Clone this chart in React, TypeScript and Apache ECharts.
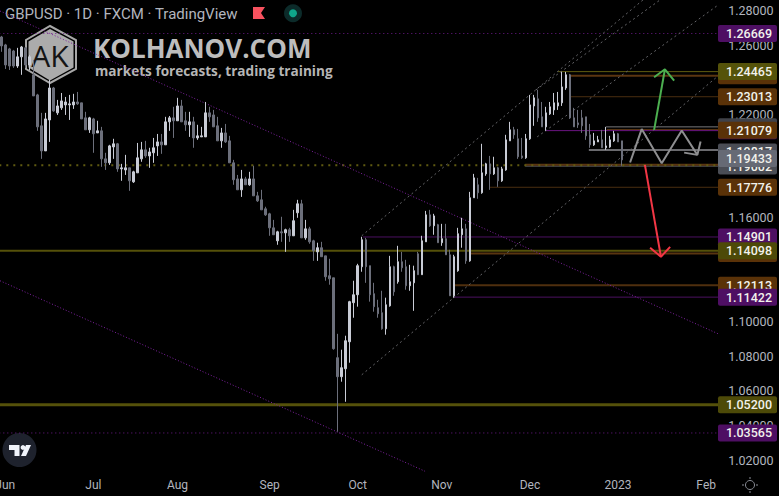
import React, { useEffect, useRef } from "react";
import * as echarts from "echarts";

const titleText = "GBPUSD · 1D · FXCM · TradingView";
const brandName = "KOLHANOV.COM";
const brandTagline = "markets forecasts, trading training";
const logoText = "AK";

const slotCount = 180;
const monthLabels: [number, string][] = [
  [1, "Jun"], [23, "Jul"], [44, "Aug"], [67, "Sep"], [89, "Oct"],
  [110, "Nov"], [132, "Dec"], [154, "2023"], [176, "Feb"],
];

// open, close, low, high
const candles: number[][] = [
  [1.2647,1.2595,1.2561,1.2653],[1.2601,1.2485,1.2462,1.2607],[1.2578,1.2479,1.2456,1.2584],[1.2566,1.2479,1.2468,1.2572],
  [1.2479,1.2532,1.2468,1.2584],[1.2532,1.2589,1.2428,1.2595],[1.2584,1.2485,1.2468,1.2589],[1.2485,1.2532,1.2456,1.2543],
  [1.2428,1.2306,1.2306,1.2514],[1.2312,1.2127,1.2104,1.2318],[1.2133,1.1988,1.1942,1.2208],[1.1988,1.2173,1.1988,1.2208],
  [1.2167,1.2352,1.2040,1.2399],[1.2352,1.2219,1.2214,1.2358],[1.2208,1.2248,1.2196,1.2283],[1.2237,1.2277,1.2225,1.2323],
  [1.2254,1.2271,1.2196,1.2300],[1.2254,1.2260,1.2167,1.2312],[1.2254,1.2271,1.2231,1.2318],[1.2271,1.2260,1.2254,1.2329],
  [1.2266,1.2173,1.2173,1.2266],[1.2179,1.2110,1.2110,1.2214],[1.2110,1.2179,1.2092,1.2185],[1.2173,1.2087,1.1977,1.2179],
  [1.2092,1.2104,1.2092,1.2162],[1.2104,1.1942,1.1896,1.2127],[1.1942,1.1919,1.1878,1.1977],[1.1919,1.2017,1.1907,1.2023],
  [1.2011,1.2029,1.1942,1.2058],[1.2029,1.1884,1.1867,1.2034],[1.1884,1.1890,1.1815,1.1913],[1.1878,1.1890,1.1849,1.1965],
  [1.1890,1.1815,1.1757,1.1890],[1.1809,1.1867,1.1803,1.1873],[1.1861,1.1948,1.1861,1.2034],[1.1942,1.1994,1.1925,1.2040],
  [1.1994,1.1959,1.1948,1.2046],[1.1959,1.1982,1.1890,1.2006],[1.1977,1.2006,1.1919,1.2063],[1.2017,1.2040,1.1959,1.2086],
  [1.2040,1.2023,1.1971,1.2086],[1.2023,1.2156,1.2023,1.2185],[1.2156,1.2179,1.2104,1.2190],[1.2179,1.2162,1.2063,1.2243],
  [1.2162,1.2248,1.2162,1.2295],[1.2248,1.2156,1.2156,1.2283],[1.2162,1.2139,1.2104,1.2214],[1.2139,1.2156,1.2069,1.2214],
  [1.2156,1.2063,1.2006,1.2185],[1.2063,1.2075,1.2052,1.2139],[1.2069,1.2075,1.2069,1.2127],[1.2069,1.2208,1.2069,1.2271],
  [1.2208,1.2185,1.2156,1.2243],[1.2196,1.2127,1.2127,1.2225],[1.2133,1.2046,1.2046,1.2185],[1.2046,1.2092,1.2006,1.2121],
  [1.2092,1.2040,1.2034,1.2144],[1.2046,1.1919,1.1919,1.2075],[1.1919,1.1821,1.1792,1.1936],[1.1826,1.1763,1.1763,1.1849],
  [1.1763,1.1826,1.1722,1.1878],[1.1826,1.1792,1.1792,1.1838],[1.1792,1.1826,1.1786,1.1867],[1.1826,1.1728,1.1728,1.1902],
  [1.1728,1.1699,1.1693,1.1751],[1.1705,1.1647,1.1647,1.1763],[1.1653,1.1618,1.1612,1.1665],[1.1624,1.1543,1.1497,1.1630],
  [1.1543,1.1503,1.1503,1.1589],[1.1468,1.1520,1.1445,1.1526],[1.1520,1.1514,1.1462,1.1607],[1.1514,1.1532,1.1404,1.1538],
  [1.1532,1.1497,1.1462,1.1543],[1.1497,1.1584,1.1497,1.1647],[1.1630,1.1682,1.1601,1.1705],[1.1682,1.1485,1.1485,1.1705],
  [1.1485,1.1537,1.1474,1.1589],[1.1537,1.1462,1.1451,1.1549],[1.1468,1.1410,1.1352,1.1474],[1.1404,1.1428,1.1352,1.1457],
  [1.1428,1.1376,1.1376,1.1462],[1.1381,1.1260,1.1237,1.1381],[1.1266,1.1248,1.1214,1.1364],[1.1254,1.0844,1.0838,1.1254],
  [1.0792,1.0682,1.0364,1.0930],[1.0682,1.0734,1.0653,1.0838],[1.0728,1.0890,1.0537,1.0919],[1.0884,1.1116,1.0763,1.1121],
  [1.1110,1.1156,1.1023,1.1237],[1.1156,1.1324,1.1087,1.1335],[1.1318,1.1474,1.1289,1.1491],[1.1474,1.1318,1.1225,1.1485],
  [1.1324,1.1156,1.1116,1.1324],[1.1162,1.1087,1.1058,1.1225],[1.1081,1.1046,1.1023,1.1127],[1.1052,1.0959,1.0954,1.1179],
  [1.0959,1.1098,1.0925,1.1139],[1.1092,1.1318,1.1087,1.1381],[1.1318,1.1173,1.1150,1.1324],[1.1231,1.1347,1.1220,1.1439],
  [1.1347,1.1312,1.1289,1.1404],[1.1318,1.1208,1.1185,1.1358],[1.1208,1.1231,1.1179,1.1329],[1.1225,1.1295,1.1063,1.1324],
  [1.1393,1.1272,1.1272,1.1404],[1.1272,1.1468,1.1272,1.1497],[1.1462,1.1618,1.1462,1.1641],[1.1618,1.1555,1.1549,1.1647],
  [1.1555,1.1612,1.1503,1.1624],[1.1561,1.1457,1.1457,1.1566],[1.1457,1.1480,1.1439,1.1566],[1.1480,1.1387,1.1387,1.1566],
  [1.1387,1.1150,1.1150,1.1416],[1.1150,1.1376,1.1139,1.1387],[1.1295,1.1509,1.1289,1.1543],[1.1503,1.1537,1.1428,1.1601],
  [1.1537,1.1352,1.1335,1.1566],[1.1352,1.1717,1.1347,1.1751],[1.1717,1.1832,1.1717,1.1855],[1.1792,1.1746,1.1711,1.1832],
  [1.1746,1.1861,1.1740,1.2029],[1.1855,1.1913,1.1844,1.1919],[1.1913,1.1855,1.1763,1.1959],[1.1855,1.1890,1.1849,1.1954],
  [1.1890,1.1815,1.1780,1.1896],[1.1815,1.1884,1.1809,1.1896],[1.1878,1.2052,1.1873,1.2081],[1.2046,1.2110,1.2046,1.2156],
  [1.2110,1.2081,1.2058,1.2127],[1.2058,1.1954,1.1942,1.2115],[1.1959,1.1948,1.1942,1.2063],[1.1948,1.2058,1.1942,1.2086],
  [1.2058,1.2254,1.2052,1.2312],[1.2248,1.2295,1.2133,1.2312],[1.2289,1.2179,1.2156,1.2341],[1.2185,1.2127,1.2127,1.2271],
  [1.2127,1.2208,1.2104,1.2243],[1.2202,1.2243,1.2196,1.2271],[1.2225,1.2266,1.2196,1.2323],[1.2248,1.2266,1.2225,1.2329],
  [1.2266,1.2358,1.2248,1.2445],[1.2352,1.2428,1.2341,1.2445],[1.2428,1.2179,1.2173,1.2433],[1.2179,1.2127,1.2127,1.2237],
  [1.2150,1.2139,1.2121,1.2225],[1.2179,1.2133,1.2092,1.2225],[1.2185,1.2075,1.2052,1.2185],[1.2081,1.2023,1.2006,1.2144],
  [1.2023,1.2046,1.2017,1.2092],[1.2040,1.2052,1.2040,1.2075],[1.2052,1.2006,1.2006,1.2110],[1.2006,1.2017,1.1994,1.2127],
  [1.2011,1.2052,1.2006,1.2075],[1.2046,1.2087,1.2040,1.2104],[1.2087,1.2040,1.2040,1.2092],[1.2046,1.1936,1.1902,1.2046],
];

const PURPLE = "#6d1a8a";
const PURPLE_SOLID = "#4e0f63";
const OLIVE = "#55510a";
const BROWN = "#5a3510";
const GREY = "#6a6a6e";

// start slot, price, colour, width, dash
const levelLines: [number, number, string, number, number[] | null][] = [
  [-0.5, 1.26669, PURPLE, 1, [1, 3]],
  [139, 1.24465, "#5f5b10", 1, null],
  [141.75, 1.2422, BROWN, 2, null],
  [142.2, 1.23013, "#4a2e10", 1, null],
  [151, 1.2127, "#77777a", 1, null],
  [135.8, 1.21053, "#6a1580", 1, null],
  [151.2, 1.2112, BROWN, 1, null],
  [146.7, 1.1993, GREY, 2, null],
  [130.8, 1.19002, GREY, 1, null],
  [130.8, 1.1908, BROWN, 2, null],
  [-0.5, 1.1905, "#5f5a10", 2, [2, 5]],
  [122, 1.17776, "#4a2e10", 1, null],
  [90.3, 1.14901, "#4b1060", 1, null],
  [-0.5, 1.14098, OLIVE, 2, null],
  [117, 1.1395, BROWN, 2, null],
  [113.3, 1.12113, "#4f2f0e", 2, null],
  [112.8, 1.11422, "#4b1060", 1, null],
  [-0.5, 1.052, OLIVE, 3, null],
  [-0.5, 1.03565, PURPLE, 1, [1, 3]],
];

// slot/price pairs of the drawn channel lines
const channelLines: number[][][] = [
  [[90, 1.0693], [179, 1.2422]],
  [[90, 1.1497], [161.7, 1.289]],
  [[133.8, 1.2069], [179, 1.2832]],
  [[133.5, 1.2341], [166.2, 1.289]],
];
const fallingLines: number[][][] = [
  [[-0.325, 1.2797], [179, 1.093]],
  [[-0.325, 1.1237], [105.8, 1.0135]],
];
const scenarioPath = [[157, 1.1921], [159.9, 1.2114], [164.9, 1.1917], [169.9, 1.2106], [173.8, 1.1965]];
const scenarioHead = [[170.5, 1.1978], [173.8, 1.1965], [174.6, 1.2042]];
const upArrow = [[163, 1.211], [165.7, 1.246]];
const upHead = [[163, 1.2414], [165.7, 1.246], [168, 1.2395]];
const downArrow = [[160.7, 1.1907], [164.7, 1.1376]];
const downHead = [[162, 1.1428], [164.7, 1.1376], [167, 1.1433]];

// price tags, painted in order
const tagPrices = [
  1.26669, 1.2422, 1.24465, 1.23013, 1.2127, 1.2105, 1.21079, 1.19817, 1.19002, 1.19433,
  1.17776, 1.14901, 1.1395, 1.14098, 1.12113, 1.11422, 1.052, 1.03565,
];
const tagTexts = [
  "1.26669", "", "1.24465", "1.23013", "", "", "1.21079", "1.19817", "1.19002", "1.19433",
  "1.17776", "1.14901", "", "1.14098", "1.12113", "1.11422", "1.05200", "1.03565",
];
const tagColors = [
  PURPLE_SOLID, "#5a3208", "#55530a", "#5a3208", "#3f4148", PURPLE_SOLID, "#5a3208", "#4a4d55", "#4a4d55", "#666a75",
  "#5a3208", PURPLE_SOLID, "#5a3208", "#4d4a08", "#5a3208", PURPLE_SOLID, "#4d4a08", PURPLE_SOLID,
];

const labelFont = "Roboto, sans-serif";

function lineSeries(data: number[][], color: string, width: number, dash: number[] | null, z = 3) {
  return {
    type: "line",
    xAxisIndex: 1,
    yAxisIndex: 0,
    data,
    showSymbol: false,
    silent: true,
    z,
    lineStyle: { color, width, type: dash || "solid" },
  };
}

export default function App() {
  const ref = useRef<HTMLDivElement>(null);
  useEffect(() => {
    document.body.style.margin = "0";
    document.body.style.background = "#000";
    const chart = echarts.init(ref.current!, undefined, { renderer: "svg" });
    const categories = Array.from({ length: slotCount }, (_, i) => {
      const m = monthLabels.find((l) => l[0] === i);
      return m ? m[1] : "";
    });
    const series: any[] = [
      ...levelLines.map(([s, p, c, w, d]) => lineSeries([[s, p], [179, p]], c, w, d, 2)),
      ...channelLines.map((d) => lineSeries(d, "#646468", 1, [2, 3], 2)),
      ...fallingLines.map((d) => lineSeries(d, "#7f22a0", 1, [1, 2], 2)),
      {
        type: "candlestick",
        xAxisIndex: 0,
        yAxisIndex: 0,
        data: candles,
        barWidth: 2,
        z: 4,
        silent: true,
        itemStyle: {
          color: "#c9ccd6",
          color0: "#6c6f7b",
          borderColor: "#c9ccd6",
          borderColor0: "#6c6f7b",
          borderWidth: 1,
        },
      },
      lineSeries(scenarioPath, "#8e8e90", 2, null, 5),
      lineSeries(scenarioHead, "#8e8e90", 2, null, 5),
      lineSeries(upArrow, "#4caf50", 2, null, 5),
      lineSeries(upHead, "#4caf50", 2, null, 5),
      lineSeries(downArrow, "#f23645", 2, null, 5),
      lineSeries(downHead, "#f23645", 2, null, 5),
      {
        type: "custom",
        xAxisIndex: 0,
        yAxisIndex: 0,
        silent: true,
        z: 8,
        encode: { x: 0, y: 1 },
        data: tagPrices.map((p, i) => [0, p, i]),
        renderItem: (params: any, api: any) => {
          const i = api.value(2);
          const y = api.coord([0, api.value(1)])[1];
          const children: any[] = [
            {
              type: "rect",
              shape: { x: 718, y: y - 8.5, width: 59, height: 17, r: 2 },
              style: { fill: tagColors[i] },
            },
          ];
          if (tagTexts[i]) {
            children.push({
              type: "text",
              style: {
                text: tagTexts[i],
                x: 749,
                y,
                fill: "#f2f2ec",
                font: `500 12.5px ${labelFont}`,
                align: "center",
                verticalAlign: "middle",
              },
            });
          }
          return { type: "group", children };
        },
      },
    ];
    chart.setOption({
      animation: false,
      backgroundColor: "#000000",
      grid: { left: -0.7, top: -24.08, width: 720.9, height: 518.7, containLabel: false, outerBoundsMode: "none" },
      xAxis: [
        {
          type: "category",
          data: categories,
          boundaryGap: true,
          axisLine: { show: false },
          axisTick: { show: false },
          splitLine: { show: false },
          axisLabel: {
            inside: true,
            margin: 4,
            interval: 0,
            color: "#b2b5be",
            fontFamily: labelFont,
            fontSize: 12,
            hideOverlap: false,
          },
        },
        { type: "value", min: -0.5, max: 179.5, show: false },
      ],
      yAxis: {
        type: "value",
        position: "right",
        min: 1.0,
        max: 1.3,
        interval: 0.02,
        axisLine: { show: false },
        axisTick: { show: false },
        splitLine: { show: false },
        axisLabel: {
          margin: 8,
          showMinLabel: false,
          showMaxLabel: false,
          color: "#b2b5be",
          fontFamily: labelFont,
          fontSize: 12.5,
          formatter: (v: number) => v.toFixed(5),
        },
      },
      series,
      graphic: [
        {
          type: "group",
          z: 100,
          silent: true,
          children: [
            { type: "text", x: 5, y: 14, style: { text: titleText, fill: "#b2b5be", font: `15px ${labelFont}`, verticalAlign: "middle" } },
            { type: "polygon", shape: { points: [[253, 7], [265, 7], [261, 13], [265, 19], [253, 19]] }, style: { fill: "#f7525f" } },
            { type: "circle", shape: { cx: 293, cy: 13.3, r: 9 }, style: { fill: "#0c2b2a" } },
            { type: "circle", shape: { cx: 293, cy: 13.3, r: 4 }, style: { fill: "#0fa58a" } },
            { type: "polygon", shape: { points: [[50, 26], [76, 40], [76, 69], [50, 83], [26, 69], [26, 40]] }, style: { fill: "#000", stroke: "#a8a8a8", lineWidth: 2 } },
            { type: "polygon", shape: { points: [[50, 29], [73.5, 41.5], [73.5, 67.5], [50, 80.5], [28.5, 67.5], [28.5, 41.5]] }, style: { fill: "#ababab" } },
            { type: "text", x: 50, y: 55, style: { text: logoText, fill: "#151515", font: `30px "Open Sans", sans-serif`, align: "center", verticalAlign: "middle" } },
            { type: "text", x: 93, y: 48, style: { text: brandName, fill: "#bdbdbd", font: `700 26px "Open Sans", sans-serif`, verticalAlign: "middle" } },
            { type: "text", x: 95, y: 70, style: { text: brandTagline, fill: "#b5b5b5", font: `700 13.6px "Open Sans", sans-serif`, verticalAlign: "middle" } },
            { type: "circle", shape: { cx: 19.5, cy: 450, r: 17 }, style: { fill: "#1e222d" } },
            { type: "polygon", shape: { points: [[9, 445], [19.5, 445], [19.5, 456], [14.5, 456], [14.5, 450], [9, 450]] }, style: { fill: "#f0f3fa" } },
            { type: "circle", shape: { cx: 23, cy: 447.5, r: 2.4 }, style: { fill: "#f0f3fa" } },
            { type: "polygon", shape: { points: [[26, 445], [31, 445], [26, 456], [21, 456]] }, style: { fill: "#f0f3fa" } },
            { type: "circle", shape: { cx: 750, cy: 485, r: 4.5 }, style: { fill: "none", stroke: "#8a8d96", lineWidth: 1 } },
            { type: "line", shape: { x1: 750, y1: 477, x2: 750, y2: 479 }, style: { stroke: "#8a8d96" } },
            { type: "line", shape: { x1: 750, y1: 491, x2: 750, y2: 493 }, style: { stroke: "#8a8d96" } },
            { type: "line", shape: { x1: 742, y1: 485, x2: 744, y2: 485 }, style: { stroke: "#8a8d96" } },
            { type: "line", shape: { x1: 756, y1: 485, x2: 758, y2: 485 }, style: { stroke: "#8a8d96" } },
          ],
        },
      ],
    });
    return () => chart.dispose();
  }, []);
  return <div ref={ref} style={{ position: "absolute", left: 0, top: 0, width: 779, height: 496 }} />;
}
